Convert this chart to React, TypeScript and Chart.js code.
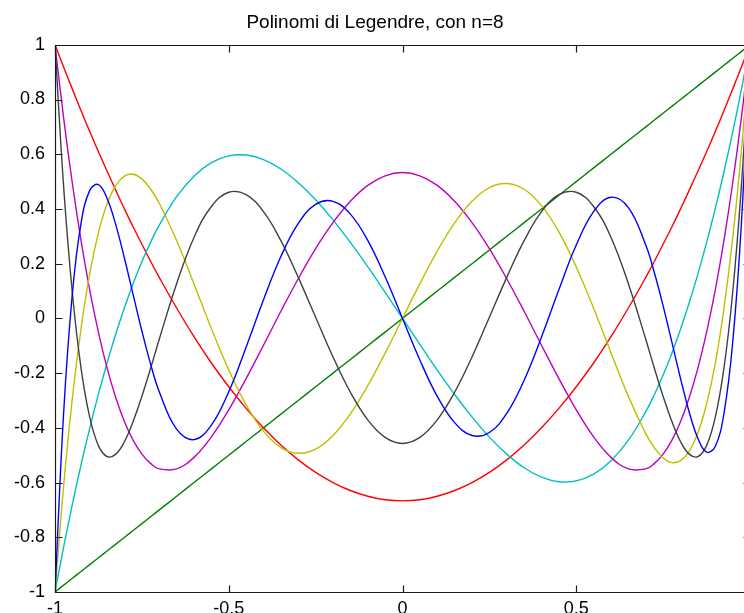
import { useEffect, useRef } from 'react';
import { Chart, registerables } from 'chart.js';

Chart.register(...registerables);

const TITLE = 'Polinomi di Legendre, con n=8';

const xValues = [
  -1, -0.975, -0.95, -0.925, -0.9, -0.875, -0.85, -0.825, -0.8, -0.775, -0.75, -0.725, -0.7,
  -0.65, -0.6, -0.55, -0.5, -0.45, -0.4, -0.35, -0.3, -0.25, -0.2, -0.15, -0.1, -0.05,
  0,
  0.05, 0.1, 0.15, 0.2, 0.25, 0.3, 0.35, 0.4, 0.45, 0.5, 0.55, 0.6, 0.65,
  0.7, 0.725, 0.75, 0.775, 0.8, 0.825, 0.85, 0.875, 0.9, 0.925, 0.95, 0.975, 1,
];

const p1 = [
  -1, -0.975, -0.95, -0.925, -0.9, -0.875, -0.85, -0.825, -0.8, -0.775, -0.75, -0.725, -0.7,
  -0.65, -0.6, -0.55, -0.5, -0.45, -0.4, -0.35, -0.3, -0.25, -0.2, -0.15, -0.1, -0.05,
  0,
  0.05, 0.1, 0.15, 0.2, 0.25, 0.3, 0.35, 0.4, 0.45, 0.5, 0.55, 0.6, 0.65,
  0.7, 0.725, 0.75, 0.775, 0.8, 0.825, 0.85, 0.875, 0.9, 0.925, 0.95, 0.975, 1,
];

const p2 = [
  1, 0.918, 0.838, 0.759, 0.683, 0.609, 0.538, 0.468, 0.4, 0.334, 0.271, 0.209, 0.15,
  0.038, -0.067, -0.163, -0.25, -0.329, -0.4, -0.463, -0.517, -0.563, -0.6, -0.629, -0.65, -0.663,
  -0.667,
  -0.663, -0.65, -0.629, -0.6, -0.563, -0.517, -0.463, -0.4, -0.329, -0.25, -0.163, -0.067, 0.038,
  0.15, 0.209, 0.271, 0.334, 0.4, 0.468, 0.538, 0.609, 0.683, 0.759, 0.838, 0.918, 1,
];

const p3 = [
  -1, -0.835, -0.68, -0.535, -0.401, -0.277, -0.162, -0.057, 0.04, 0.128, 0.207, 0.278, 0.341,
  0.445, 0.52, 0.569, 0.594, 0.597, 0.58, 0.546, 0.496, 0.434, 0.36, 0.278, 0.189, 0.095,
  0,
  -0.095, -0.189, -0.278, -0.36, -0.434, -0.496, -0.546, -0.58, -0.597, -0.594, -0.569, -0.52, -0.445,
  -0.341, -0.278, -0.207, -0.128, -0.04, 0.057, 0.162, 0.277, 0.401, 0.535, 0.68, 0.835, 1,
];

const p4 = [
  1, 0.731, 0.493, 0.284, 0.103, -0.051, -0.182, -0.29, -0.378, -0.446, -0.496, -0.53, -0.55,
  -0.55, -0.508, -0.433, -0.334, -0.22, -0.098, 0.026, 0.145, 0.255, 0.35, 0.428, 0.486, 0.521,
  0.533,
  0.521, 0.486, 0.428, 0.35, 0.255, 0.145, 0.026, -0.098, -0.22, -0.334, -0.433, -0.508, -0.55,
  -0.55, -0.53, -0.496, -0.446, -0.378, -0.29, -0.182, -0.051, 0.103, 0.284, 0.493, 0.731, 1,
];

const p5 = [
  -1, -0.61, -0.291, -0.036, 0.164, 0.313, 0.419, 0.486, 0.52, 0.527, 0.51, 0.473, 0.421,
  0.285, 0.126, -0.037, -0.188, -0.316, -0.412, -0.472, -0.493, -0.478, -0.428, -0.349, -0.246, -0.127,
  0,
  0.127, 0.246, 0.349, 0.428, 0.478, 0.493, 0.472, 0.412, 0.316, 0.188, 0.037, -0.126, -0.285,
  -0.421, -0.473, -0.51, -0.527, -0.52, -0.486, -0.419, -0.313, -0.164, 0.036, 0.291, 0.61, 1,
];

const p6 = [
  1, 0.479, 0.092, -0.182, -0.362, -0.465, -0.505, -0.496, -0.45, -0.376, -0.285, -0.183, -0.076,
  0.127, 0.296, 0.409, 0.461, 0.452, 0.39, 0.284, 0.15, 0.004, -0.141, -0.27, -0.371, -0.435,
  -0.457,
  -0.435, -0.371, -0.27, -0.141, 0.004, 0.15, 0.284, 0.39, 0.452, 0.461, 0.409, 0.296, 0.127,
  -0.076, -0.183, -0.285, -0.376, -0.45, -0.496, -0.505, -0.465, -0.362, -0.182, 0.092, 0.479, 1,
];

const p7 = [
  -1, -0.342, 0.091, 0.348, 0.468, 0.489, 0.438, 0.342, 0.219, 0.086, -0.046, -0.166, -0.268,
  -0.405, -0.443, -0.39, -0.268, -0.105, 0.068, 0.226, 0.347, 0.417, 0.428, 0.381, 0.285, 0.152,
  0,
  -0.152, -0.285, -0.381, -0.428, -0.417, -0.347, -0.226, -0.068, 0.105, 0.268, 0.39, 0.443, 0.405,
  0.268, 0.166, 0.046, -0.086, -0.219, -0.342, -0.438, -0.489, -0.468, -0.348, -0.091, 0.342, 1,
];

const seriesNames = ['P1', 'P2', 'P3', 'P4', 'P5', 'P6', 'P7'];
const seriesColors = ['#008000', '#ff0000', '#00bfbf', '#bf00bf', '#bfbf00', '#404040', '#0000ff'];

const xTickValues = [-1, -0.5, 0, 0.5, 1];
const yTickValues = [-1, -0.8, -0.6, -0.4, -0.2, 0, 0.2, 0.4, 0.6, 0.8, 1];

const CANVAS_W = 760;
const CANVAS_H = 640;
const FONT = "'Liberation Sans', Arial, Helvetica, sans-serif";

const fmt = (v: number) => String(Math.round(v * 100) / 100);

const boxPlugin = {
  id: 'matlabBox',
  afterDraw(chart: any) {
    const { ctx, chartArea, scales } = chart;
    const l = Math.round(chartArea.left) + 0.5;
    const r = Math.round(chartArea.right) + 0.5;
    const t = Math.round(chartArea.top) + 0.5;
    const b = Math.round(chartArea.bottom) + 0.5;
    const tl = 7;
    ctx.save();
    ctx.strokeStyle = '#1a1a1a';
    ctx.lineWidth = 1.2;
    ctx.beginPath();
    ctx.rect(l, t, r - l, b - t);
    ctx.stroke();
    ctx.beginPath();
    xTickValues.forEach((v) => {
      const px = Math.round(scales.x.getPixelForValue(v)) + 0.5;
      ctx.moveTo(px, b);
      ctx.lineTo(px, b - tl);
      ctx.moveTo(px, t);
      ctx.lineTo(px, t + tl);
    });
    yTickValues.forEach((v) => {
      const py = Math.round(scales.y.getPixelForValue(v)) + 0.5;
      ctx.moveTo(l, py);
      ctx.lineTo(l + tl, py);
      ctx.moveTo(r, py);
      ctx.lineTo(r - tl, py);
    });
    ctx.stroke();
    ctx.restore();
  },
};

export default function App() {
  const canvasRef = useRef<HTMLCanvasElement | null>(null);

  useEffect(() => {
    if (!canvasRef.current) return;
    const series = [p1, p2, p3, p4, p5, p6, p7];
    const datasets = series.map((arr, k) => ({
      label: seriesNames[k],
      data: xValues.map((x, i) => ({ x, y: arr[i] })),
      borderColor: seriesColors[k],
      backgroundColor: seriesColors[k],
      borderWidth: 1.4,
      pointRadius: 0,
      fill: false,
      tension: 0.4,
      order: 6 - k,
    }));

    const chart = new Chart(canvasRef.current, {
      type: 'line',
      data: { datasets },
      options: {
        animation: false,
        responsive: false,
        devicePixelRatio: 1,
        layout: { padding: { left: 0, right: 10, top: 0, bottom: 0 } },
        plugins: {
          legend: { display: false },
          tooltip: { enabled: false },
          title: {
            display: true,
            text: TITLE,
            color: '#000',
            font: { family: FONT, size: 19, weight: 'normal' },
            padding: { top: 11, bottom: 11 },
          },
        },
        scales: {
          x: {
            type: 'linear',
            min: -1,
            max: 1,
            grid: { display: false, drawTicks: false },
            border: { display: false },
            afterBuildTicks: (scale: any) => {
              scale.ticks = xTickValues.map((v) => ({ value: v }));
            },
            ticks: {
              color: '#000',
              font: { family: FONT, size: 18 },
              padding: 6,
              maxRotation: 0,
              autoSkip: false,
              callback: (v: any) => fmt(Number(v)),
            },
            afterFit: (scale: any) => {
              scale.height = CANVAS_H - 592;
              scale.paddingLeft = 0;
              scale.paddingRight = 0;
            },
          },
          y: {
            type: 'linear',
            min: -1,
            max: 1,
            grid: { display: false, drawTicks: false },
            border: { display: false },
            afterBuildTicks: (scale: any) => {
              scale.ticks = yTickValues.map((v) => ({ value: v }));
            },
            ticks: {
              color: '#000',
              font: { family: FONT, size: 18 },
              padding: 10,
              autoSkip: false,
              callback: (v: any) => fmt(Number(v)),
            },
            afterFit: (scale: any) => {
              scale.width = 55;
            },
          },
        },
      },
      plugins: [boxPlugin],
    });
    return () => chart.destroy();
  }, []);

  return (
    <div
      style={{
        position: 'fixed',
        left: 0,
        top: 0,
        width: 744,
        height: 613,
        overflow: 'hidden',
        background: '#fff',
      }}
    >
      <canvas ref={canvasRef} width={CANVAS_W} height={CANVAS_H} style={{ display: 'block' }} />
    </div>
  );
}
